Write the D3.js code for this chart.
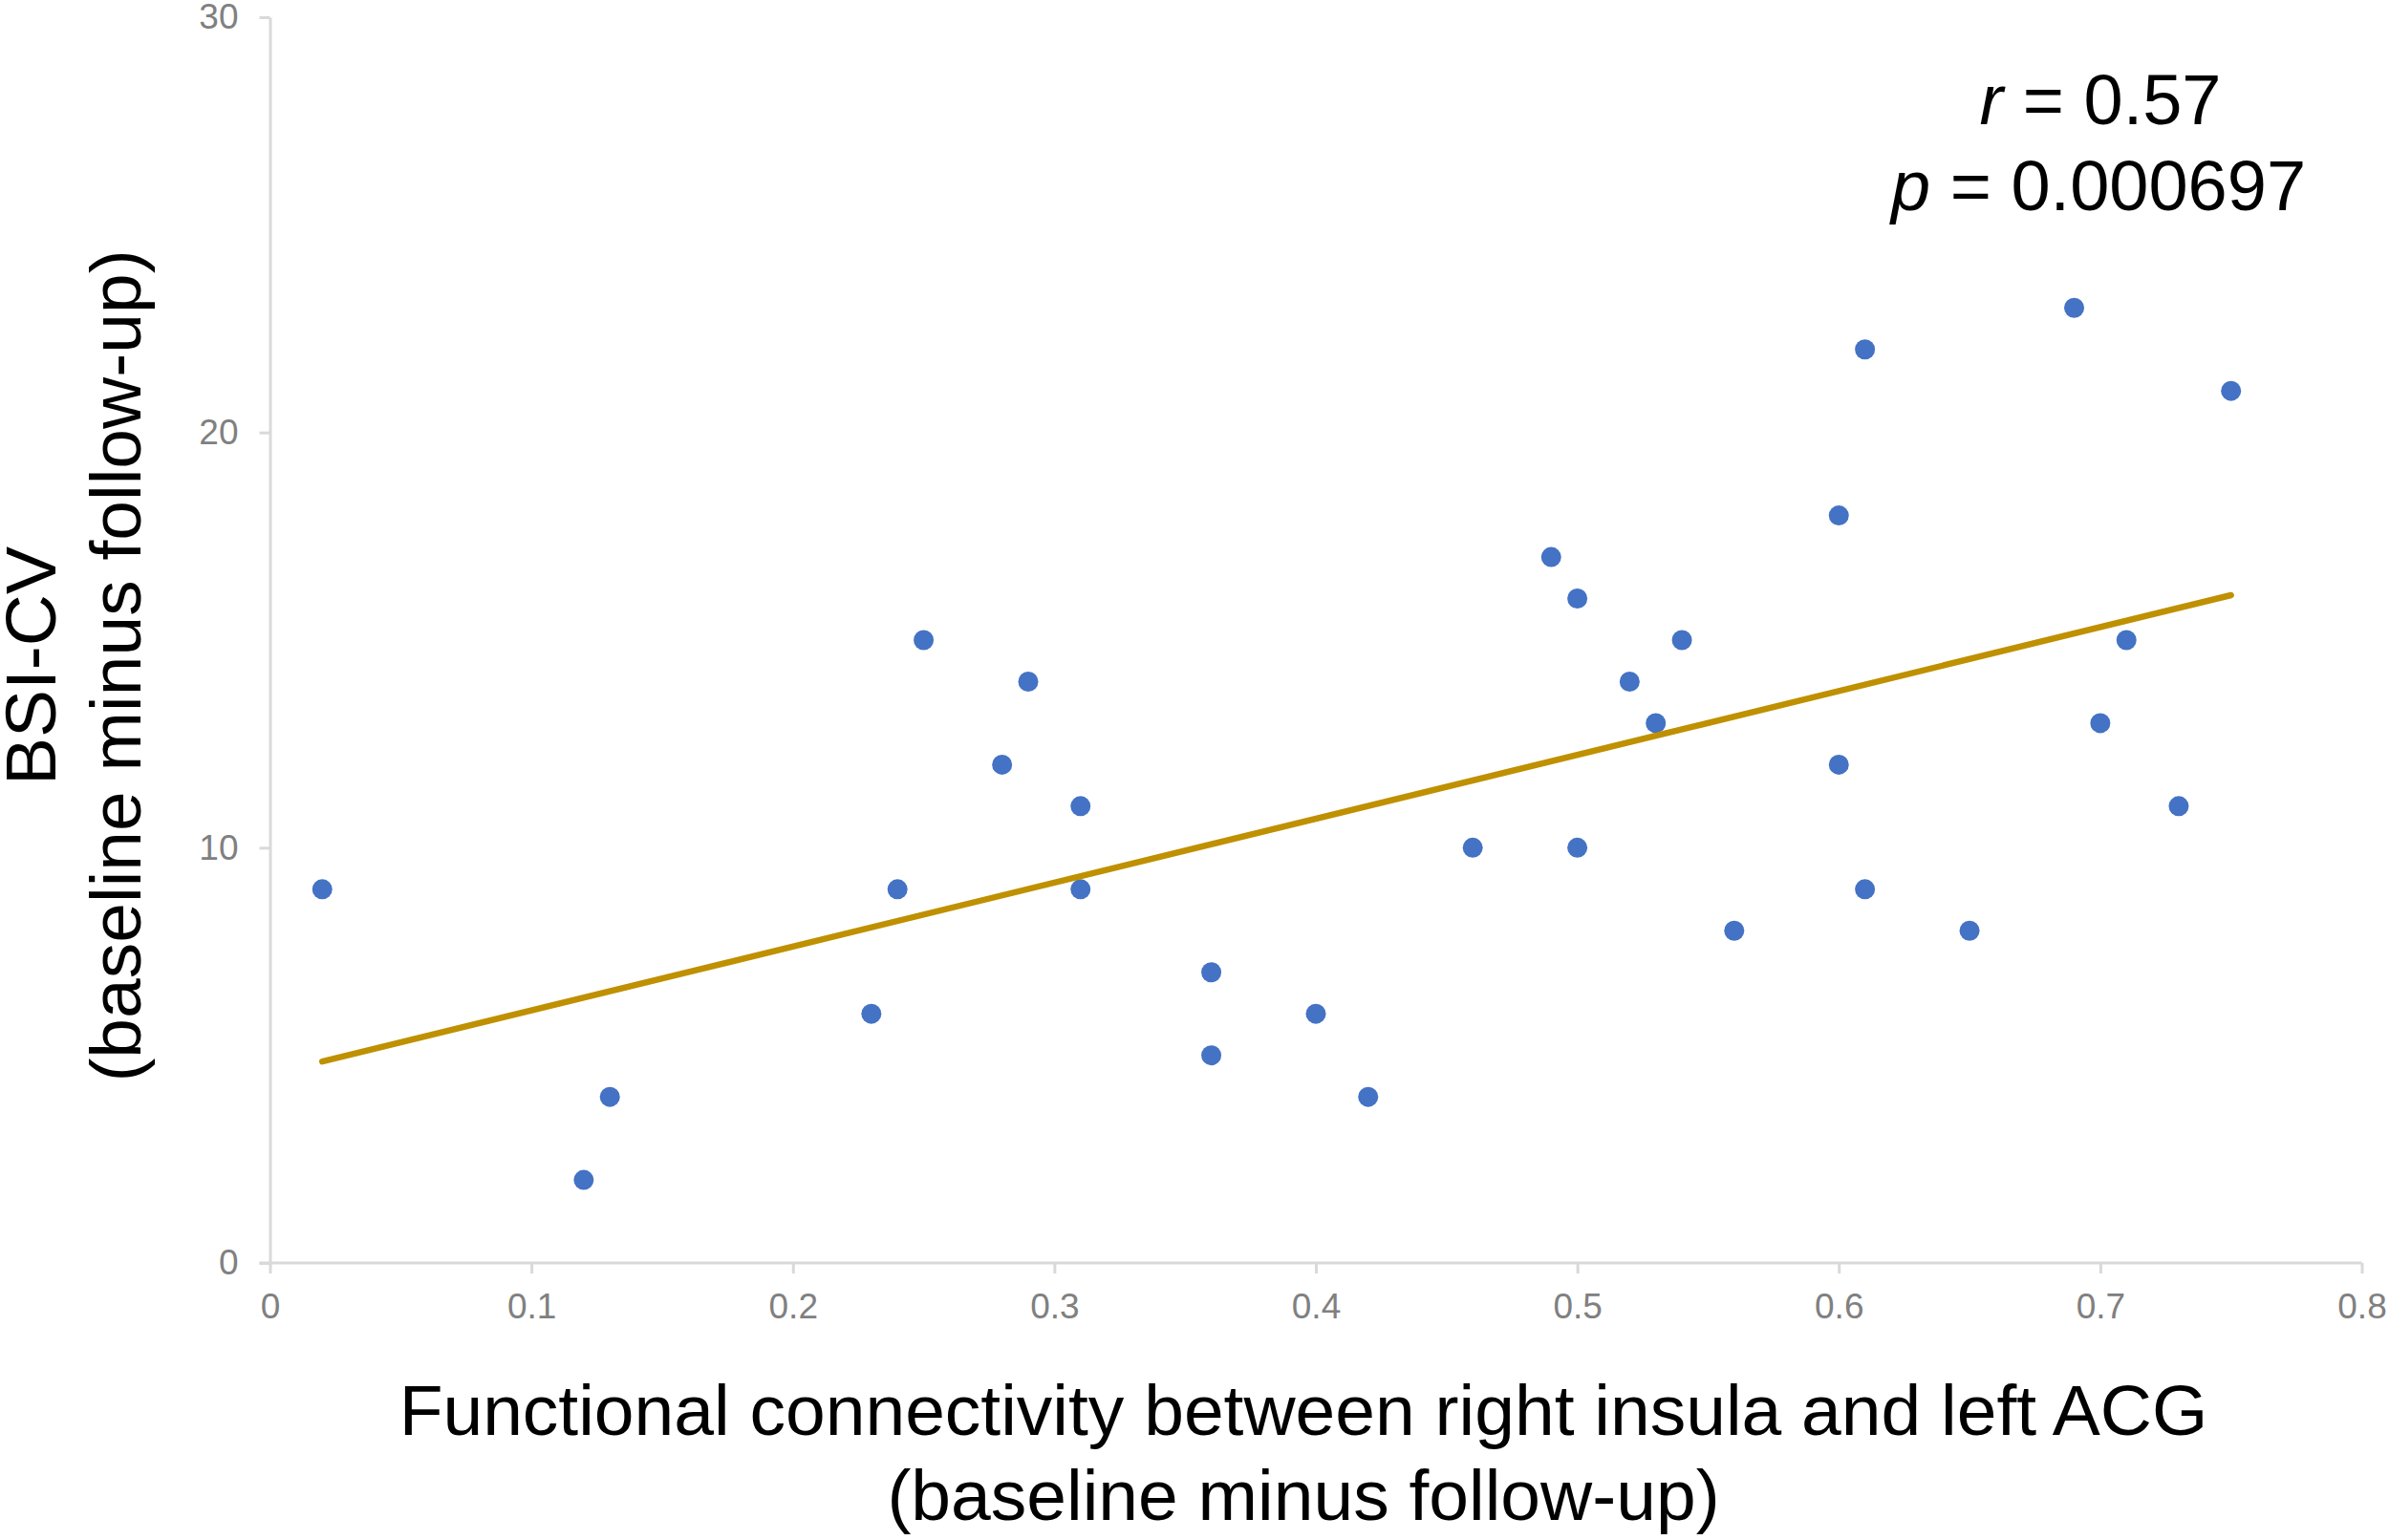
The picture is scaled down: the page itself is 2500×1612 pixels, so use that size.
<!DOCTYPE html>
<html>
<head>
<meta charset="utf-8">
<script src="https://cdn.jsdelivr.net/npm/d3@7"></script>
<style>
  html, body { margin: 0; padding: 0; background: #fff; }
  svg { display: block; }
  text { font-family: "Liberation Sans", Arial, sans-serif; }
</style>
</head>
<body>
<svg id="chart" width="2500" height="1612"></svg>
<script>
// ---- data ----
const connectivity = [0.02, 0.12, 0.13, 0.23, 0.24, 0.25, 0.28, 0.29, 0.31, 0.31,
                      0.36, 0.36, 0.40, 0.42, 0.46, 0.49, 0.50, 0.50, 0.52, 0.53,
                      0.54, 0.56, 0.60, 0.60, 0.61, 0.61, 0.65, 0.69, 0.70, 0.71,
                      0.73, 0.75];
const bsiCV =        [9, 2, 4, 6, 9, 15, 12, 14, 11, 9,
                      7, 5, 6, 4, 10, 17, 16, 10, 14, 13,
                      15, 8, 18, 12, 22, 9, 8, 23, 13, 15,
                      11, 21];
const xTickValues = [0, 0.1, 0.2, 0.3, 0.4, 0.5, 0.6, 0.7, 0.8];
const xTickLabels = ["0", "0.1", "0.2", "0.3", "0.4", "0.5", "0.6", "0.7", "0.8"];
const yTickValues = [0, 10, 20, 30];
const yTickLabels = ["0", "10", "20", "30"];
const xTitleLines = ["Functional connectivity between right insula and left ACG", "(baseline minus follow-up)"];
const yTitleLines = ["BSI-CV", "(baseline minus follow-up)"];
const statR = "0.57";
const statP = "0.000697";

// ---- chart ----
const svg = d3.select("#chart");
const x = d3.scaleLinear().domain([0, 0.8]).range([282.5, 2471.5]);
const y = d3.scaleLinear().domain([0, 30]).range([1322, 18]);

const axisColor = "#d9d9d9";
const tickTextColor = "#808080";

const gx = svg.append("g").attr("transform", `translate(0,${y(0)})`)
  .call(d3.axisBottom(x).tickValues(xTickValues)
    .tickFormat((d, i) => xTickLabels[i]).tickSize(11).tickSizeOuter(0).tickPadding(21));
const gy = svg.append("g").attr("transform", `translate(${x(0)},0)`)
  .call(d3.axisLeft(y).tickValues(yTickValues)
    .tickFormat((d, i) => yTickLabels[i]).tickSize(11).tickSizeOuter(0).tickPadding(22));

[gx, gy].forEach(g => {
  g.select(".domain").attr("stroke", axisColor).attr("stroke-width", 3);
  g.selectAll(".tick line").attr("stroke", axisColor).attr("stroke-width", 3);
  g.selectAll(".tick text").attr("fill", tickTextColor)
    .style("font-size", "37px").style("font-family", "'Liberation Sans', Arial, sans-serif");
});
// extend x-axis line left to meet y tick
gx.select(".domain").attr("d", `M${x(0) - 11},0H${x(0.8)}`);

// points
const pts = connectivity.map((v, i) => ({ x: v, y: bsiCV[i] }));
svg.append("g").selectAll("circle").data(pts).join("circle")
  .attr("cx", d => x(d.x)).attr("cy", d => y(d.y)).attr("r", 10.5)
  .attr("fill", "#4472C4");

// linear trendline (least squares from data)
const mx = d3.mean(pts, d => d.x), my = d3.mean(pts, d => d.y);
const slope = d3.sum(pts, d => (d.x - mx) * (d.y - my)) / d3.sum(pts, d => (d.x - mx) ** 2);
const intercept = my - slope * mx;
const xExt = d3.extent(connectivity);
const trend = xExt.map(v => ({ x: v, y: intercept + slope * v }));
svg.append("path").datum(trend)
  .attr("d", d3.line().x(d => x(d.x)).y(d => y(d.y)))
  .attr("fill", "none").attr("stroke", "#BF9000").attr("stroke-width", 6.5)
  .attr("stroke-linecap", "round");

// statistics annotation
const ann = svg.append("g").attr("font-size", 74).attr("fill", "#000").attr("text-anchor", "middle");
const t1 = ann.append("text").attr("x", 2198).attr("y", 130);
t1.append("tspan").attr("font-style", "italic").text("r");
t1.append("tspan").text(" = " + statR);
const t2 = ann.append("text").attr("x", 2196).attr("y", 220);
t2.append("tspan").attr("font-style", "italic").text("p");
t2.append("tspan").text(" = " + statP);

// axis titles
const xt = svg.append("g").attr("font-size", 75).attr("fill", "#000").attr("text-anchor", "middle");
xt.selectAll("text").data(xTitleLines).join("text")
  .attr("x", 1364).attr("y", (d, i) => 1502 + i * 89).text(d => d);

const yt = svg.append("g").attr("font-size", 75).attr("fill", "#000").attr("text-anchor", "middle");
yt.selectAll("text").data(yTitleLines).join("text")
  .attr("transform", (d, i) => `translate(${58 + i * 89},697) rotate(-90)`).text(d => d);
</script>
</body>
</html>
